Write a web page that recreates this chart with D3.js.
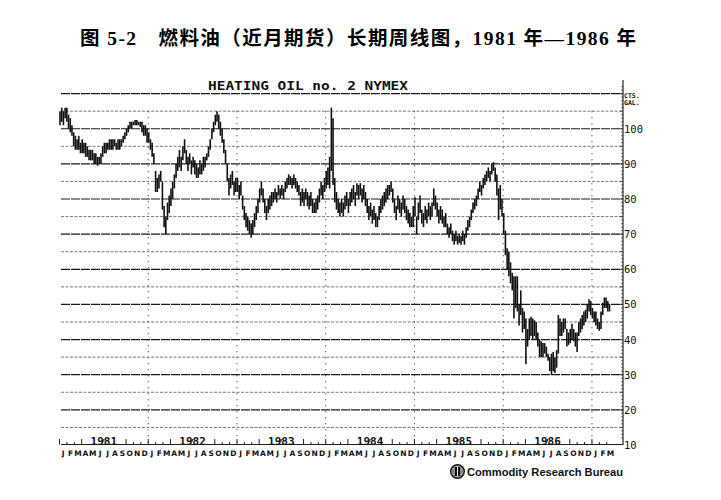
<!DOCTYPE html>
<html><head><meta charset="utf-8">
<script src="https://cdn.jsdelivr.net/npm/d3@7/dist/d3.min.js"></script>
<style>body{margin:0;background:#fff}svg{display:block}</style>
</head><body>
<script>
// weekly [high, low] bars, cents per gallon
const y1981 = [[105,101],[106,102],[105,101],[106,103],[106,102],[104,100],[103,99],[101,98],[99,95],[98,94],[97,94],[98,94],[96,93],[97,93],[96,93],[96,92],[95,92],[94,91],[94,91],[94,91],[93,90],[93,90],[92,89.5],[92,90],[93,90],[95,92],[96,93],[96,93],[96,94],[97,94],[97,94],[97,94],[97,95],[96,94],[97,94],[97,94],[97,95],[98,96],[99,97],[100,98],[101,99],[102,100],[102,100],[102,101],[102.5,101],[102.5,101],[102,101],[102,100.5],[102,99],[101,98],[101,98],[100,96]];
const y1982 = [[99,96],[97,94],[96,92],[93,90],[88,82],[86,82],[87,83],[88,85],[85,77],[78,72],[75,70],[79,74],[81,76],[83,78],[85,80],[87,83],[90,86],[92,88],[94,89],[92,88],[95,91],[97,93],[94,90],[92,88],[93,90],[91,87],[92,89],[91,87],[90,86],[89,86],[91,87],[90,87],[92,88],[92,89],[93,91],[95,92],[97,94],[100,97],[102,99],[104,101],[105,102],[104,100],[102,98],[100,96],[97,93],[94,90],[90,85],[86,81],[87,83],[88,84],[85,81],[86,82]];
const y1983 = [[86,82],[84,80],[85,81],[81,77],[78,74],[76,72],[75,71],[74,70],[73,69],[74,70],[76,72],[78,74],[80,76],[83,79],[85,81],[83,79],[80,76],[78,74],[80,76],[81,77],[82,78],[82,79],[83,80],[82,79],[84,81],[83,80],[84,81],[83,80],[85,82],[86,83],[87,84],[86.5,84],[86,83],[87,84],[86,83],[85,82],[84,81],[82,78],[83,79],[82,78],[83,80],[82,78],[81,77],[82,78],[80,76],[79,76],[80,76],[81,77],[83,79],[85,81],[84,80],[86,82]];
const y1984 = [[88,83],[89,84],[92,83],[106,88],[103,84],[86,79],[82,77],[80,76],[79,75],[80,76],[79,75],[81,77],[82,78],[80,76],[82,78],[83,79],[84,80],[82,78],[84.5,81],[84,80],[84.5,81],[83,79],[84,80],[82,78],[80,76],[78,74],[79,75],[77,73],[78,74],[76,72],[75,72],[78,74],[80,76],[81,77],[82,78],[83,79],[84,80],[84,81],[85,82],[83,79],[80,76],[78,74],[81,77],[80,76],[79,75],[81,77],[80,76],[78,74],[77,73],[76,72],[75,72],[78,72]];
const y1985 = [[80.5,75],[75,70],[79,74],[81,76],[77,73],[76,72],[78,74],[77,73],[79,75],[78,74],[79,75],[83,78],[81,77],[79,75],[77,73],[78,74],[77,73],[75,72],[76,72],[73,70],[72,69],[73,70],[71,68],[70,67],[71,68],[69.5,67],[70,67.5],[69.5,67],[71,68],[70,67],[72,69],[74,71],[75,72],[77,74],[79,76],[80,77],[81,78],[83,80],[85,82],[84,81],[86,83],[87,84],[88,85],[89,86],[88,85],[90,87],[90.5,88],[89,85],[87,81],[83,74],[84,77],[80,75]];
const y1986 = [[76,70],[71,64],[66,60],[65,58],[62,56],[59,54],[58,46],[58,49],[58,48],[50,44],[54,47],[49,42],[48,43],[46,33],[43,38],[46,40],[46.5,41],[46,40],[45.5,41],[45,40],[42,38],[40,35],[39.5,35],[39,35],[39,36],[38,35],[36,34],[35,31],[36,30],[36.5,31],[35,30.5],[37,32],[47,36],[46,41],[45,41],[46,42],[46,43],[43,38],[42,38.5],[43,39],[44.5,40],[43,39.5],[42,38],[42,36.5],[45,41],[46,42],[47,43],[48,44],[48.5,45],[50,46],[51.5,48],[51,47]];
const y1987 = [[49,46],[48,45],[48,44],[46,43],[45,42.5],[48,43],[50.5,47],[52,49],[52,49],[51,48],[50,48]];
const years = [1981, 1982, 1983, 1984, 1985, 1986, 1987];
const yearBars = [y1981, y1982, y1983, y1984, y1985, y1986, y1987];
const yearLabels = ["1981", "1982", "1983", "1984", "1985", "1986"];
const monthLetters = ["J","F","M","A","M","J","J","A","S","O","N","D"];
const priceTicks = [10, 20, 30, 40, 50, 60, 70, 80, 90, 100];
const title = "图 5-2　燃料油（近月期货）长期周线图，1981 年—1986 年";
const chartTitle = "HEATING OIL no. 2  NYMEX";
const unitLabels = ["CTS.", "GAL."];
const logoText = "Commodity Research Bureau";

const W = 721, H = 500;
const svg = d3.select("body").append("svg").attr("width", W).attr("height", H);

const x = d3.scaleLinear().domain([1981, 1987.35]).range([59.5, 623]);
const y = d3.scaleLinear().domain([10, 110]).range([445, 93.6]);
const left = 61, right = 623;

// title
svg.append("text").attr("x", 80).attr("y", 45)
  .attr("font-family", "'Liberation Serif','Noto Sans CJK SC',serif")
  .attr("font-weight", "bold").attr("font-size", 19.5)
  .attr("textLength", 556).attr("lengthAdjust", "spacing")
  .text(title);

// chart title
svg.append("text").attr("x", 308).attr("y", 90).attr("text-anchor", "middle")
  .attr("font-family", "'DejaVu Sans Mono',monospace").attr("font-size", 13)
  .attr("font-weight", "bold").attr("fill", "#111")
  .attr("textLength", 200).attr("lengthAdjust", "spacingAndGlyphs")
  .text(chartTitle);

// horizontal grid
const gridVals = d3.range(15, 111, 5);
svg.append("g").selectAll("line").data(gridVals).join("line")
  .attr("x1", left).attr("x2", right)
  .attr("y1", d => y(d)).attr("y2", d => y(d))
  .attr("stroke", d => d % 10 === 0 ? "#1a1a1a" : "#6a6a6a")
  .attr("stroke-width", d => d % 10 === 0 ? 1.2 : 0.9)
  .attr("stroke-dasharray", d => d % 10 === 0 ? "9,1" : "3,1.5");

// vertical dotted year lines
svg.append("g").selectAll("line").data(years.slice(1)).join("line")
  .attr("x1", d => x(d)).attr("x2", d => x(d))
  .attr("y1", y(105)).attr("y2", y(10))
  .attr("stroke", "#333").attr("stroke-width", 1.1).attr("stroke-dasharray", "1,5");

// weekly bars
const bars = [];
yearBars.forEach((arr, i) => arr.forEach((d, w) => bars.push({t: years[i] + (w + 0.3) / 52, hi: d[0], lo: d[1]})));
svg.append("g").selectAll("line").data(bars).join("line")
  .attr("x1", d => x(d.t)).attr("x2", d => x(d.t))
  .attr("y1", d => y(d.hi)).attr("y2", d => y(d.lo))
  .attr("stroke", "#111").attr("stroke-width", 1.6);

// right axis
const ax = svg.append("g");
ax.append("line").attr("x1", right).attr("x2", right).attr("y1", 80).attr("y2", y(10))
  .attr("stroke", "#222").attr("stroke-width", 1.2);
ax.selectAll("line.mt").data(d3.range(12, 113, 1)).join("line").attr("class", "mt")
  .attr("x1", d => right - (d % 5 === 0 ? 3 : 1.8)).attr("x2", right)
  .attr("y1", d => y(d)).attr("y2", d => y(d))
  .attr("stroke", "#333").attr("stroke-width", 0.8);
ax.selectAll("text.pl").data(priceTicks).join("text").attr("class", "pl")
  .attr("x", 624).attr("y", d => y(d) + 4)
  .attr("font-family", "'DejaVu Sans Mono',monospace").attr("font-size", 10.5)
  .attr("fill", "#111").text(d => d);
ax.selectAll("text.ul").data(unitLabels).join("text").attr("class", "ul")
  .attr("x", 624).attr("y", (d, i) => 98 + i * 6.5)
  .attr("font-family", "'DejaVu Sans Mono',monospace").attr("font-size", 6.5)
  .attr("font-weight", "bold").attr("fill", "#111").text(d => d);

// bottom axis
const by = 444.5;
svg.append("line").attr("x1", left).attr("x2", right).attr("y1", by).attr("y2", by)
  .attr("stroke", "#222").attr("stroke-width", 1.2);
const months = [];
years.forEach(yr => monthLetters.forEach((m, i) => {
  const t = yr + i / 12;
  if (t < 1987.25) months.push({t, i, m});
}));
svg.append("g").selectAll("line").data(months).join("line")
  .attr("x1", d => x(d.t)).attr("x2", d => x(d.t))
  .attr("y1", by).attr("y2", d => by - (d.i % 3 === 0 ? 5.5 : 2.5))
  .attr("stroke", "#222").attr("stroke-width", 1);
svg.append("g").selectAll("text").data(months).join("text")
  .attr("x", d => x(d.t + 1 / 24)).attr("y", 456).attr("text-anchor", "middle")
  .attr("font-family", "'DejaVu Sans',sans-serif").attr("font-size", 7.5)
  .attr("font-weight", "bold").attr("fill", "#111").text(d => d.m);
const yl = svg.append("g").selectAll("g").data(yearLabels).join("g");
yl.append("rect").attr("x", d => x(+d + 0.5) - 16).attr("y", by - 3).attr("width", 32).attr("height", 2.5).attr("fill", "#fff");
yl.append("text").attr("x", d => x(+d + 0.5)).attr("y", by).attr("text-anchor", "middle")
  .attr("font-family", "'DejaVu Sans Mono',monospace").attr("font-size", 11)
  .attr("font-weight", "bold").attr("fill", "#111").text(d => d);

// logo
const lg = svg.append("g");
lg.append("circle").attr("cx", 457.5).attr("cy", 471.5).attr("r", 7.5).attr("fill", "#111");
lg.append("circle").attr("cx", 457.5).attr("cy", 471.5).attr("r", 5.5).attr("fill", "none").attr("stroke", "#fff").attr("stroke-width", 0.8);
lg.append("path").attr("d", "M454,468 L454,475 M457.5,466.5 L457.5,476.5 M461,468 L461,475").attr("stroke", "#fff").attr("stroke-width", 1);
lg.append("text").attr("x", 467).attr("y", 476)
  .attr("font-family", "'Liberation Sans',Arial,sans-serif").attr("font-size", 11.5)
  .attr("font-weight", "bold").attr("fill", "#111")
  .attr("textLength", 156).attr("lengthAdjust", "spacingAndGlyphs").text(logoText);
</script>
</body></html>
